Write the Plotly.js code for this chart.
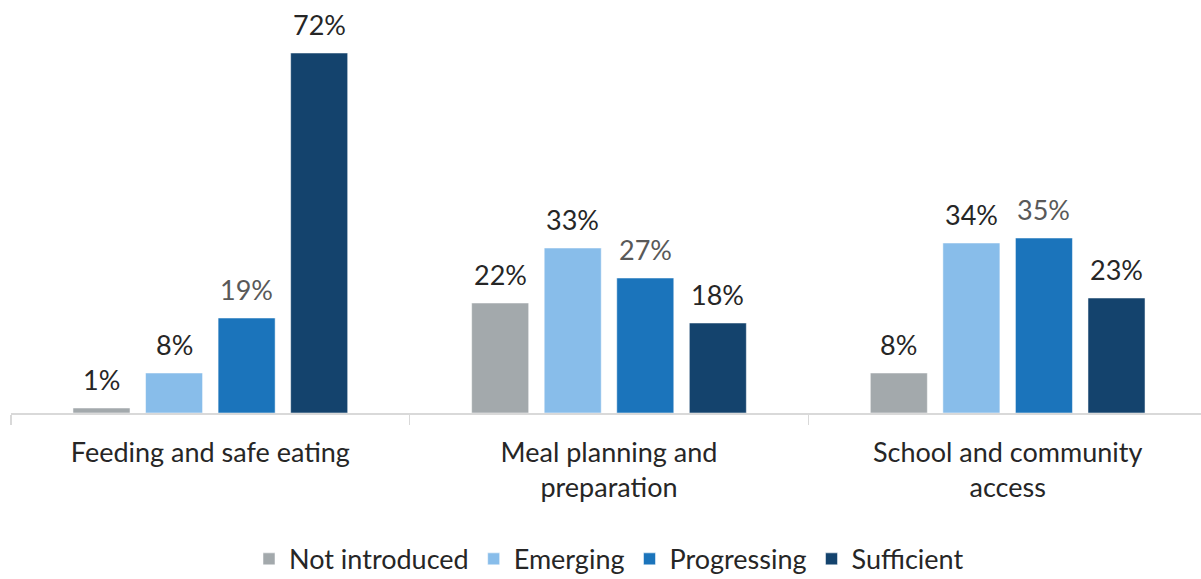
<!DOCTYPE html>
<html>
<head>
<meta charset="utf-8">
<script src="https://cdn.plot.ly/plotly-3.0.1.min.js"></script>
<style>
html, body { margin:0; padding:0; overflow:hidden; background:#fff; }
#chart { width:1207px; height:579px; }
</style>
</head>
<body>
<div id="chart"></div>
<script>
var categories = ["Feeding and safe eating", "Meal planning and<br>preparation", "School and community<br>access"];
var seriesNames = ["Not introduced", "Emerging", "Progressing", "Sufficient"];
var notIntroduced = [1, 22, 8];
var emerging = [8, 33, 34];
var progressing = [19, 27, 35];
var sufficient = [72, 18, 23];

var values = [notIntroduced, emerging, progressing, sufficient];
var colors = ["#a3a9ac", "#88bdea", "#1b74bb", "#14436d"];
var labelColors = ["#262626", "#262626", "#595959", "#262626"];

var font = "Lato, 'Open Sans', sans-serif";
var bargap = 0.272, bargroupgap = 0.214;

var traces = values.map(function (v, i) {
  return {
    type: "bar",
    name: seriesNames[i],
    x: categories,
    y: v,
    marker: { color: colors[i], line: { color: "rgba(255,255,255,0.5)", width: 1 } },
    hoverinfo: "none"
  };
});

// value labels, placed over each bar via the axis scale
var nS = values.length;
var slot = (1 - bargap) / nS;
var annotations = [];
values.forEach(function (v, i) {
  v.forEach(function (d, j) {
    annotations.push({
      x: j + (i - (nS - 1) / 2) * slot,
      y: d,
      xref: "x", yref: "y",
      text: d + "%",
      showarrow: false,
      yanchor: "middle",
      yshift: 29,
      font: { family: font, size: 27, color: labelColors[i] }
    });
  });
});

var layout = {
  width: 1207,
  height: 579,
  margin: { l: 11, r: 0, t: 13, b: 166 },
  barmode: "group",
  bargap: bargap,
  bargroupgap: bargroupgap,
  paper_bgcolor: "#ffffff",
  plot_bgcolor: "#ffffff",
  showlegend: true,
  annotations: annotations,
  legend: {
    orientation: "h",
    x: 0.5, xanchor: "center",
    yref: "container",
    y: 0.034, yanchor: "middle",
    font: { family: font, size: 27, color: "#262626" },
    itemwidth: 30,
    traceorder: "normal"
  },
  xaxis: {
    type: "category",
    automargin: false,
    showline: true,
    linecolor: "#d9d9d9",
    linewidth: 1.5,
    ticks: "outside",
    tickson: "boundaries",
    ticklen: 10,
    tickcolor: "#d9d9d9",
    tickwidth: 1.5,
    ticklabelstandoff: 15,
    tickfont: { family: font, size: 27, color: "#262626" },
    showgrid: false,
    zeroline: false
  },
  yaxis: {
    range: [0, 80],
    visible: false,
    showgrid: false,
    zeroline: false
  }
};

Plotly.newPlot("chart", traces, layout, { displayModeBar: false, staticPlot: true });
</script>
</body>
</html>
